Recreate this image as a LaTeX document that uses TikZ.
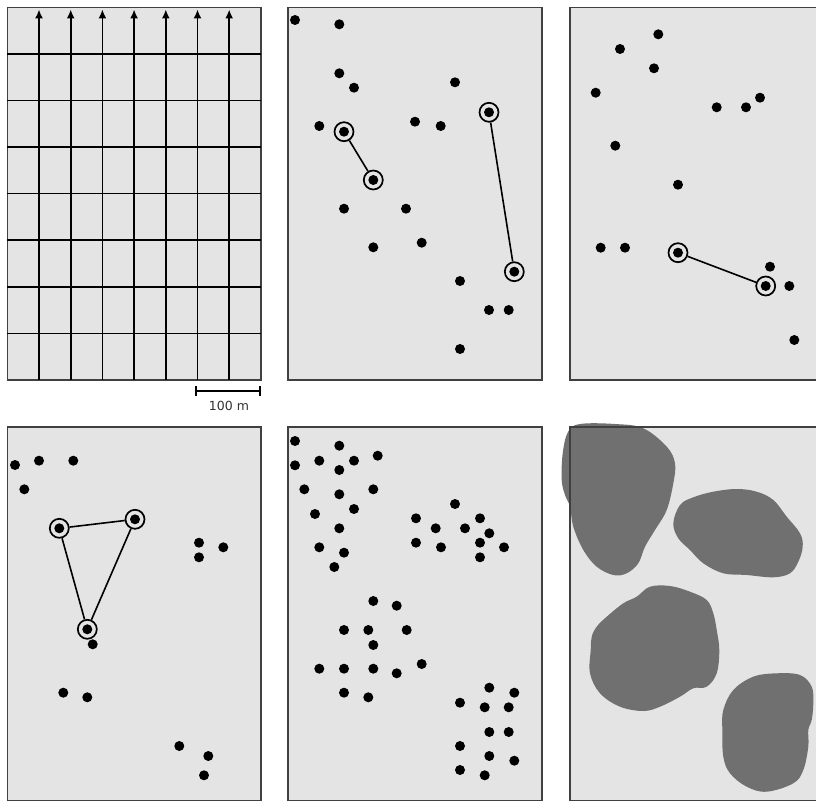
\documentclass[tikz,border=0pt]{standalone}
\usepackage{fontspec}
\setsansfont{DejaVu Sans}
\usetikzlibrary{arrows.meta}
\definecolor{plotgray}{HTML}{E4E4E4}
\definecolor{patchgray}{HTML}{707070}

\begin{document}
\begin{tikzpicture}[x=1pt,y=-1pt,
    panel/.style={fill=plotgray,draw=black!75,line width=1.2pt},
    tree/.style={fill=black},
    pick/.style={circle,draw,line width=1.7pt,inner sep=0pt,minimum size=19pt},
    link/.style={line width=1.6pt}]
    \useasboundingbox (0,0) rectangle (816,802);

    % systematic grid with transect lines
    \draw[panel] (7.3,7.3) rectangle (261,380);
    \foreach \k in {1,...,7}
        \draw[line width=1.6pt] (7.3,{7.3+46.6*\k}) -- (261,{7.3+46.6*\k});
    \foreach \k in {1,...,7}
        \draw[line width=1.6pt,-{Latex[length=9pt,width=8pt]}] ({7.3+31.7*\k},380) -- ({7.3+31.7*\k},9.5);
    \draw[line width=2.6pt] (196,391) -- (260,391);
    \draw[line width=1.5pt] (196,386) -- (196,396);
    \draw[line width=1.5pt] (260,386) -- (260,396);
    \node[font=\sffamily\fontsize{12.5}{12.5}\selectfont,text=black!80] (scale) at (229,406) {100 m};

    % nearest neighbour, random pattern
    \draw[panel] (288,7.3) rectangle (542,380);
    \foreach \x/\y in {295/20,339.3/24.3,339.3/73.3,354/87.7,455/82.3,319.3/126,415/121.7,440.7/126,
        344/208.7,406/208.7,373.3/247.3,421.7/242.7,460/281,489/310,508.7/310,460/349}
        \fill[tree] (\x,\y) circle (5pt);
    \node[pick] (a1) at (344,131.7) {};
    \node[pick] (a2) at (373.3,180) {};
    \node[pick] (b1) at (489,112.3) {};
    \node[pick] (b2) at (514.3,271.7) {};
    \foreach \n in {a1,a2,b1,b2}
        \fill[tree] (\n) circle (5pt);
    \draw[link] (a1) -- (a2);
    \draw[link] (b1) -- (b2);

    % nearest neighbour, sparse pattern
    \draw[panel] (570,7.3) rectangle (824,380);
    \foreach \x/\y in {658.3/34.3,620/49,654/68.3,595.7/92.7,716.7/107.3,746/107.3,760/97.7,615.3/145.7,
        678/184.7,600.7/247.7,625/247.7,770/266.7,789.3/286,794.3/340}
        \fill[tree] (\x,\y) circle (5pt);
    \node[pick] (c1) at (678,252.7) {};
    \node[pick] (c2) at (765.7,286) {};
    \foreach \n in {c1,c2}
        \fill[tree] (\n) circle (5pt);
    \draw[link] (c1) -- (c2);

    % triangle of neighbours
    \draw[panel] (7.3,427) rectangle (261,800.7);
    \foreach \x/\y in {15/465,39/460.7,73.3/460.7,24.3/489.3,199/542.7,223.3/547.3,199/557.3,
        92.7/644.3,63.3/692.7,87.3/697.3,179.3/746,208.3/756,204/775.3}
        \fill[tree] (\x,\y) circle (5pt);
    \node[pick] (t1) at (59.3,528.3) {};
    \node[pick] (t2) at (135,519.3) {};
    \node[pick] (t3) at (87.3,629.3) {};
    \foreach \n in {t1,t2,t3}
        \fill[tree] (\n) circle (5pt);
    \draw[link] (t1) -- (t2) -- (t3) -- (t1);

    % clumped pattern
    \draw[panel] (288,427) rectangle (542,800.7);
    \foreach \x/\y in {295/441,339.3/445.7,295/465.3,319.3/460.7,354/460.7,339.3/470,377.7/455.7,
        304.3/489.3,339.3/494.3,373.3/489.3,315/514,354/509,339.3/528.3,319.3/547.3,344/552.7,334.3/567,
        455/504,416/518.3,435.7/528.3,465/528.3,480/518.3,489.3/533.3,416/542.7,441/547.3,480/542.7,
        504/547.3,480/557.3,
        373.3/601,396.7/605.7,344/630,368.3/630,406.7/630,373.3/645,421.7/664,319.3/668.7,344/668.7,
        373.3/668.7,396.7/673.3,344/692.7,368.3/697.3,
        489.3/687.7,514.3/692.7,460/702.7,484.7/707.3,508.7/707.3,489.3/732,508.7/732,460/746,
        489.3/756,514.3/760.7,460/770,484.7/775.3}
        \fill[tree] (\x,\y) circle (5pt);

    % patches
    \draw[panel] (570,427) rectangle (824,800.7);
    \fill[patchgray] plot[smooth cycle,tension=0.6] coordinates {(580,424) (615,424) (643.3,428.3)
        (666.7,446.7) (675,463.3) (673.3,483.3) (666.7,510) (655,530) (645,546.7) (638.3,563.3)
        (626.7,573.3) (613.3,575) (596.7,566.7) (583.3,550) (573.3,526.7) (570,506.7) (565,495)
        (561.7,480) (562.7,453.3) (568,432)};
    \fill[patchgray] plot[smooth cycle,tension=0.6] coordinates {(673.3,523.3) (680,505) (693.3,497.3)
        (713.3,491.7) (736.7,489) (756.7,491.7) (773.3,500) (786.7,516.7) (800,533.3) (802.7,546.7)
        (798.3,561.7) (790,573.3) (773.3,577.3) (746.7,575) (723.3,573.3) (703.3,563.3) (690,550)
        (678.3,538.3)};
    \fill[patchgray] plot[smooth cycle,tension=0.6] coordinates {(650,586.7) (670,586) (690,591.7)
        (706.7,600) (713.3,613.3) (716.7,630) (719.3,650) (716.7,673.3) (706.7,686.7) (693.3,688.3)
        (680,696.7) (660,706.7) (643.3,711) (620,706.7) (600,693.3) (590,673.3) (590.7,650)
        (591.7,636.7) (596.7,626.7) (606.7,616.7) (623.3,603.3) (636.7,596.7)};
    \fill[patchgray] plot[smooth cycle,tension=0.6] coordinates {(723.3,710) (733.3,690) (753.3,676.7)
        (776.7,673.3) (800,675) (811.7,686.7) (813.3,703.3) (811.7,720) (808.3,730) (808.3,746.7)
        (803.3,770) (793.3,783.3) (766.7,791.7) (746.7,786.7) (730,773.3) (723.3,756.7) (722.3,730)};
    \draw[black!75,line width=1.2pt] (570,427) rectangle (824,800.7);
\end{tikzpicture}
\end{document}
